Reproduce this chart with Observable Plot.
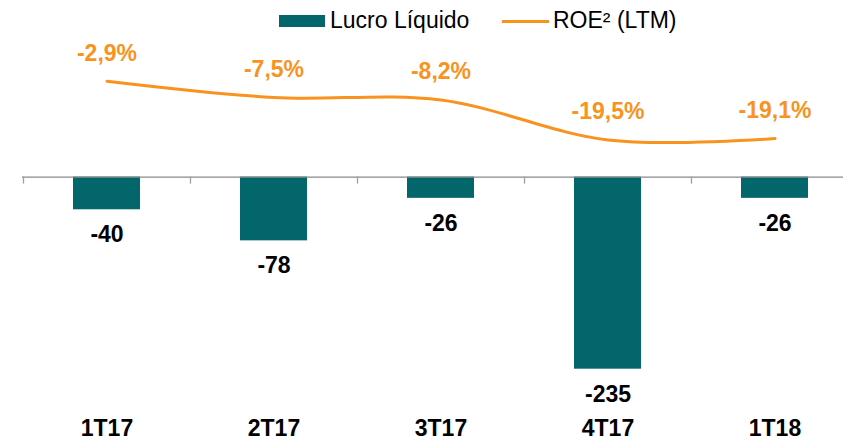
<!DOCTYPE html>
<html>
<head>
<meta charset="utf-8">
<script src="https://cdn.jsdelivr.net/npm/d3@7"></script>
<script src="https://cdn.jsdelivr.net/npm/@observablehq/plot@0.6"></script>
<style>
  html, body { margin: 0; padding: 0; background: #fff; }
  body { width: 843px; height: 441px; overflow: hidden; font-family: "Liberation Sans", Arial, sans-serif; }
  #legend { position: relative; height: 36px; width: 843px; }
  #legend .sw { position: absolute; }
  #legend .lt { position: absolute; font-size: 23px; line-height: 23px; color: #000; white-space: nowrap; }
  #chart svg { display: block; }
</style>
</head>
<body>
<div id="legend">
  <div class="sw" style="left:279px; top:15px; width:46px; height:12px; background:#02666A;"></div>
  <div class="lt" style="left:330px; top:9px;">Lucro Líquido</div>
  <div class="sw" style="left:502px; top:20px; width:47px; height:3px; background:#F7931E;"></div>
  <div class="lt" style="left:553px; top:9px;">ROE² (LTM)</div>
</div>
<div id="chart"></div>
<script>
const categories = ["1T17", "2T17", "3T17", "4T17", "1T18"];
const lucroLiquido = [-40, -78, -26, -235, -26];
const lucroLabels = ["-40", "-78", "-26", "-235", "-26"];
const roe = [-2.9, -7.5, -8.2, -19.5, -19.1];
const roeLabels = ["-2,9%", "-7,5%", "-8,2%", "-19,5%", "-19,1%"];

const teal = "#02666A";
const orange = "#F7931E";

const data = categories.map((c, i) => ({
  cat: c, lucro: lucroLiquido[i], lucroLabel: lucroLabels[i], roe: roe[i], roeLabel: roeLabels[i]
}));

// secondary axis: map ROE onto the bar value domain
const roeScale = d3.scaleLinear().domain([-2.9, -19.5]).range([117.3, 45.4]);

const chart = Plot.plot({
  width: 843,
  height: 405,
  marginTop: 0,
  marginBottom: 0,
  marginLeft: 22,
  marginRight: 0,
  style: { fontFamily: "Liberation Sans, Arial, sans-serif", background: "#fff" },
  x: { domain: categories, range: [22.5, 857.5], paddingInner: 0.6, paddingOuter: 0.3, axis: null },
  y: { domain: [-288, 172], range: [376, 0], axis: null },
  marks: [
    Plot.barY(data, { x: "cat", y: "lucro", fill: teal }),
    Plot.ruleY([0], { stroke: "#898989", strokeWidth: 1.3 }),
    Plot.ruleX(categories, { x: d => d, y1: 0, y2: -8.6, dx: -83.5, stroke: "#a0a0a0", strokeWidth: 1.3 }),
    Plot.line(data, { x: "cat", y: d => roeScale(d.roe), stroke: orange, strokeWidth: 3, curve: "cardinal" }),
    Plot.text(data, { x: "cat", y: d => roeScale(d.roe), text: "roeLabel", dy: -28, fill: orange, fontSize: 23, fontWeight: "bold" }),
    Plot.text(data, { x: "cat", y: "lucro", text: "lucroLabel", dy: 25, fill: "#000", fontSize: 23, fontWeight: "bold" }),
    Plot.text(data, { x: "cat", text: "cat", frameAnchor: "bottom", lineAnchor: "middle", dy: -13, fill: "#000", fontSize: 23, fontWeight: "bold" })
  ]
});
document.getElementById("chart").appendChild(chart);
</script>
</body>
</html>
